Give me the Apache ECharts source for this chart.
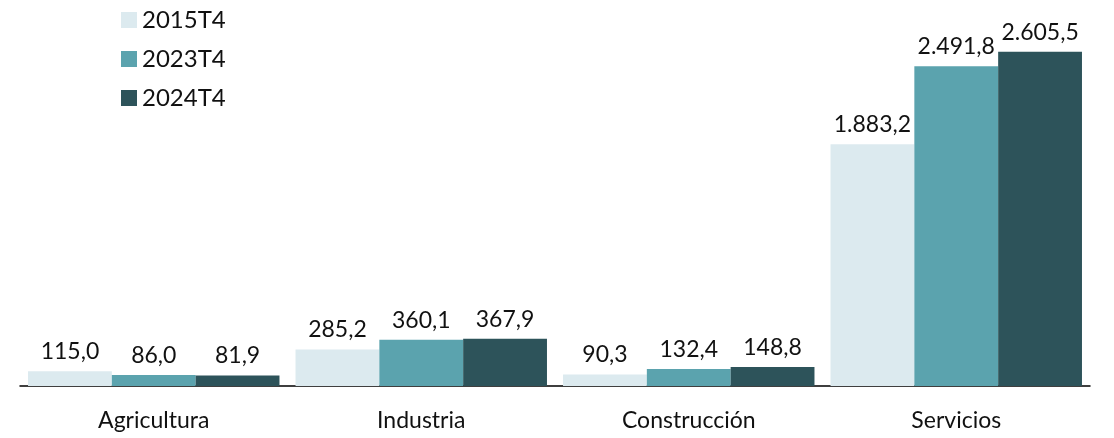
<!DOCTYPE html>
<html>
<head>
<meta charset="utf-8">
<script src="https://cdn.jsdelivr.net/npm/echarts@6/dist/echarts.min.js"></script>
<style>
  html, body { margin: 0; padding: 0; background: #fff; }
  #chartsCover { width: 1114px; height: 438px; }
</style>
</head>
<body>
<div id="chartsCover"></div>
<script>
var categories = ['Agricultura', 'Industria', 'Construcción', 'Servicios'];
var seriesNames = ['2015T4', '2023T4', '2024T4'];
var values2015 = [115.0, 285.2, 90.3, 1883.2];
var values2023 = [86.0, 360.1, 132.4, 2491.8];
var values2024 = [81.9, 367.9, 148.8, 2605.5];
var colors = ['#dceaef', '#5ba3ae', '#2d535a'];

// formato español: punto de miles, coma decimal
function fmtEs(v){
  var parts = v.toFixed(1).split('.');
  parts[0] = parts[0].replace(/\B(?=(\d{3})+(?!\d))/g, '.');
  return parts[0] + ',' + parts[1];
}

var fontFam = 'Lato, "Open Sans", sans-serif';
var allValues = [values2015, values2023, values2024];
var series = new Array();
for (var i = 0; i < seriesNames.length; i++) {
  series.push({
    name: seriesNames[i],
    type: 'bar',
    barGap: '0%',
    barCategoryGap: '6%',
    itemStyle: { color: colors[i] },
    label: {
      show: true,
      position: 'top',
      distance: 8,
      color: '#111',
      fontSize: 23,
      fontFamily: fontFam,
      formatter: function (p) { return fmtEs(p.value); }
    },
    data: allValues[i]
  });
}

var chartsOption = {
  animation: false,
  legend: {
    orient: 'vertical',
    left: 116,
    top: 3,
    itemWidth: 16,
    itemHeight: 16,
    itemGap: 15,
    icon: 'rect',
    textStyle: { fontSize: 24, color: '#111', fontFamily: fontFam },
    data: seriesNames
  },
  grid: { left: 20, right: 24, top: 1, bottom: 52 },
  xAxis: {
    type: 'category',
    data: categories,
    axisLine: { lineStyle: { color: '#000', width: 1.5 } },
    axisTick: { show: false },
    axisLabel: { color: '#111', fontSize: 23, fontFamily: fontFam, margin: 23 }
  },
  yAxis: {
    type: 'value',
    min: 0,
    max: 3000,
    show: false,
    splitLine: { show: false }
  },
  series: series
};

var myChart = echarts.init(document.getElementById('chartsCover'));
chartsOption && myChart.setOption(chartsOption, true);
</script>
</body>
</html>
